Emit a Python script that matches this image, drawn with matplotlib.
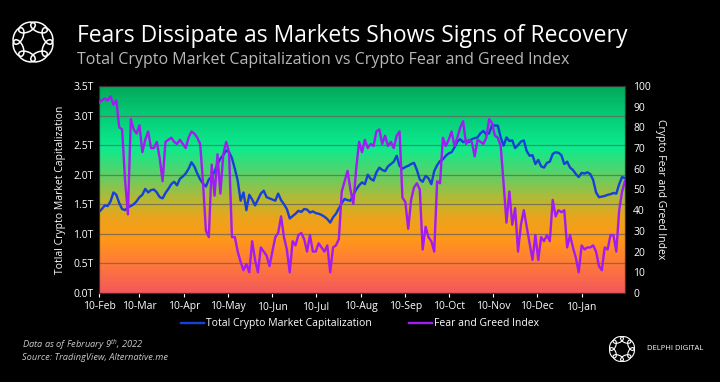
import numpy as np
import pandas as pd
import matplotlib
matplotlib.use("Agg")
import matplotlib.pyplot as plt
import matplotlib.dates as mdates
from matplotlib.colors import LinearSegmentedColormap
from matplotlib.patches import Ellipse

# data: one reading every 2 days, 10 Feb 2021 -> 9 Feb 2022
dates = pd.date_range("2021-02-10", periods=183, freq="2D")

market_cap = [
    1.37, 1.42, 1.48, 1.47, 1.55, 1.70, 1.66, 1.52, 1.42, 1.40,
    1.45, 1.47, 1.50, 1.55, 1.62, 1.66, 1.76, 1.70, 1.74, 1.75,
    1.70, 1.62, 1.60, 1.69, 1.76, 1.84, 1.88, 1.82, 1.93, 1.97,
    2.02, 2.10, 2.21, 2.14, 2.02, 1.92, 1.85, 1.80, 1.92, 1.97,
    2.05, 2.18, 2.27, 2.33, 2.41, 2.38, 2.28, 2.10, 1.90, 1.56,
    1.70, 1.40, 1.66, 1.58, 1.48, 1.58, 1.68, 1.73, 1.62, 1.60,
    1.58, 1.56, 1.68, 1.57, 1.50, 1.42, 1.26, 1.30, 1.34, 1.39,
    1.37, 1.42, 1.41, 1.36, 1.38, 1.35, 1.34, 1.32, 1.29, 1.25,
    1.19, 1.28, 1.34, 1.43, 1.52, 1.59, 1.57, 1.56, 1.66, 1.75,
    1.82, 1.87, 1.84, 2.00, 1.93, 1.90, 2.04, 2.12, 2.08, 2.06,
    2.14, 2.18, 2.22, 2.32, 2.15, 2.10, 2.13, 2.15, 2.18, 2.20,
    2.08, 1.92, 1.88, 1.98, 1.94, 1.84, 2.06, 2.16, 2.23, 2.26,
    2.32, 2.36, 2.38, 2.46, 2.56, 2.60, 2.55, 2.58, 2.55, 2.60,
    2.62, 2.63, 2.70, 2.74, 2.68, 2.70, 2.84, 2.83, 2.83, 2.63,
    2.49, 2.63, 2.57, 2.58, 2.45, 2.50, 2.56, 2.58, 2.40, 2.32,
    2.33, 2.18, 2.25, 2.14, 2.12, 2.20, 2.22, 2.35, 2.38, 2.37,
    2.33, 2.18, 2.22, 2.12, 2.08, 2.01, 1.96, 2.03, 2.02, 2.04,
    2.01, 1.91, 1.70, 1.62, 1.63, 1.64, 1.66, 1.67, 1.69, 1.68,
    1.84, 1.96, 1.94,
]

fear_greed = [
    92, 93, 94, 93, 95, 91, 93, 80, 79, 55,
    38, 84, 79, 77, 81, 68, 74, 78, 70, 70,
    73, 65, 54, 73, 74, 75, 73, 72, 74, 72,
    70, 75, 78, 77, 75, 72, 53, 30, 27, 62,
    47, 67, 48, 67, 73, 68, 27, 27, 20, 15,
    11, 14, 10, 25, 16, 10, 22, 20, 18, 13,
    20, 27, 29, 37, 27, 21, 10, 25, 23, 28,
    29, 26, 20, 28, 20, 20, 24, 22, 20, 23,
    10, 22, 23, 26, 49, 54, 59, 50, 43, 60,
    73, 68, 74, 70, 72, 71, 78, 79, 72, 76,
    71, 73, 70, 76, 78, 46, 44, 31, 45, 51,
    53, 50, 21, 32, 27, 25, 20, 54, 53, 75,
    71, 74, 78, 71, 75, 80, 83, 72, 74, 73,
    66, 74, 73, 72, 75, 84, 82, 76, 75, 71,
    53, 34, 49, 33, 41, 20, 33, 40, 32, 24,
    16, 28, 16, 27, 25, 28, 25, 45, 37, 40,
    39, 40, 22, 28, 22, 17, 10, 23, 21, 22,
    22, 23, 20, 13, 11, 22, 21, 28, 28, 20,
    40, 49, 54,
]

cap_ticks = [0, 0.5, 1.0, 1.5, 2.0, 2.5, 3.0, 3.5]
fg_ticks = list(range(0, 101, 10))

BLUE = "#1740d8"
PURPLE = "#a11cf2"

plt.rcParams["font.family"] = ["Open Sans", "DejaVu Sans"]

fig = plt.figure(figsize=(7.2, 3.82), dpi=100, facecolor="black")
ax = fig.add_axes([0.1375, 0.233, 0.7305, 0.542])
ax.set_facecolor("black")

xmin = mdates.date2num(pd.Timestamp("2021-02-10"))
xmax = mdates.date2num(pd.Timestamp("2022-02-09"))

# red -> orange -> yellow -> green -> mint -> dark green background
bg = LinearSegmentedColormap.from_list("bg", [
    (0.00, "#f4585a"),
    (0.14, "#ff7a3a"),
    (0.26, "#ff9818"),
    (0.36, "#eca41c"),
    (0.45, "#b8b834"),
    (0.57, "#5cd068"),
    (0.70, "#0cec8e"),
    (0.85, "#06cc78"),
    (1.00, "#02a85a"),
])
grad = np.linspace(0, 1, 256).reshape(-1, 1)
ax.imshow(grad, cmap=bg, origin="lower", aspect="auto",
          extent=[xmin, xmax, 0, 3.5], zorder=0)

for v in cap_ticks[1:-1]:
    ax.axhline(v, color="#646458", lw=0.9, alpha=0.75, zorder=1)

ax.plot(dates, market_cap, color=BLUE, lw=1.7, zorder=3)
ax.set_xlim(xmin, xmax)
ax.set_ylim(0, 3.5)
ax.set_yticks(cap_ticks)
ax.set_yticklabels([f"{v:.1f}T" for v in cap_ticks])

ax2 = ax.twinx()
ax2.plot(dates, fear_greed, color=PURPLE, lw=1.7, zorder=3)
ax2.set_ylim(0, 100)
ax2.set_yticks(fg_ticks)

month_ticks = pd.date_range("2021-02-01", "2022-01-01", freq="MS") + pd.Timedelta(days=9)
ax.set_xticks(month_ticks)
ax.set_xticklabels([d.strftime("%d-%b") for d in month_ticks])

for a in (ax, ax2):
    a.tick_params(colors="white", labelsize=7.5, length=3, width=0.8)
    for s in a.spines.values():
        s.set_color("#333333")
        s.set_linewidth(0.8)
ax.tick_params(axis="y", length=0, pad=4)
ax2.tick_params(axis="y", length=0, pad=6)
ax.tick_params(axis="x", pad=3)

ax.set_ylabel("Totlal Crypto Market Capitalization", color="white", fontsize=7.5, labelpad=5)
ax2.set_ylabel("Crypto Fear and Greed Index", color="white", fontsize=7.5,
               rotation=270, labelpad=11)

# legend
h1, = ax.plot([], [], color=BLUE, lw=1.7)
h2, = ax.plot([], [], color=PURPLE, lw=1.7)
leg = fig.legend([h1, h2], ["Total Crypto Market Capitalization", "Fear and Greed Index"],
                 loc="center", bbox_to_anchor=(0.5, 0.152), ncol=2, frameon=False,
                 fontsize=7.5, handlelength=2.2, handletextpad=0.2, columnspacing=3.5)
for t in leg.get_texts():
    t.set_color("white")

# titles
fig.text(0.107, 0.905, "Fears Dissipate as Markets Shows Signs of Recovery",
         color="white", fontsize=16.5, va="center", ha="left")
fig.text(0.107, 0.843, "Total Crypto Market Capitalization vs Crypto Fear and Greed Index",
         color="#b8b8b8", fontsize=11.5, va="center", ha="left")

# footer
fig.text(0.03, 0.097, r"Data as of February 9$^{\mathregular{th}}$, 2022",
         color="#c8c8c8", fontsize=6.7, style="italic", va="center")
fig.text(0.03, 0.064, "Source: TradingView, Alternative.me",
         color="#c8c8c8", fontsize=6.7, style="italic", va="center")


def draw_logo(cx, cy, r, lw):
    lax = fig.add_axes([cx - r, cy - r * 720 / 382, 2 * r, 2 * r * 720 / 382])
    lax.set_xlim(-1.3, 1.3)
    lax.set_ylim(-1.3, 1.3)
    lax.set_aspect("equal")
    lax.axis("off")
    for k in range(8):
        ang = 2 * np.pi * k / 8 + np.pi / 8
        lax.add_patch(Ellipse((0.85 * np.cos(ang), 0.85 * np.sin(ang)), 0.95, 0.5,
                              angle=np.degrees(ang) + 90, fill=False,
                              edgecolor="white", lw=lw))


draw_logo(33 / 720, 1 - 42 / 382, 24 / 720, 1.1)
draw_logo(622 / 720, 1 - 349 / 382, 15 / 720, 0.8)
fig.text(647 / 720, 1 - 349 / 382, "DELPHI DIGITAL", color="white",
         fontsize=5.5, va="center", ha="left")

fig.savefig("out.png", dpi=100, facecolor="black")
